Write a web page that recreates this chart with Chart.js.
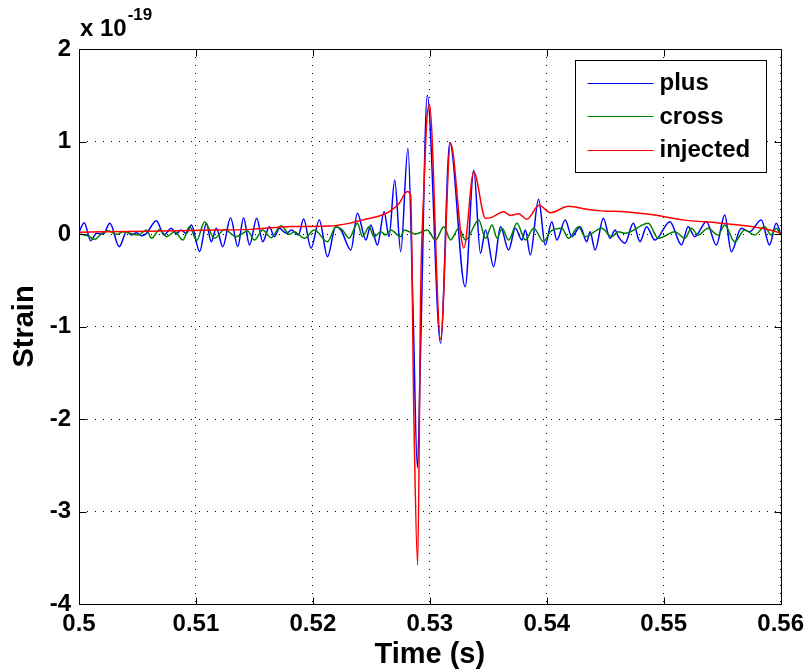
<!DOCTYPE html>
<html><head><meta charset="utf-8">
<script src="https://cdn.jsdelivr.net/npm/chart.js@4.4.0/dist/chart.umd.min.js"></script>
<style>html,body{margin:0;padding:0;background:#fff;}canvas{display:block;}</style>
</head><body>
<canvas id="c" width="810" height="672"></canvas>
<script>
// ---- data (strain in units of 1e-19, time in seconds) ----
const seriesNames = ['plus', 'cross', 'injected'];
const seriesColors = ['#0000ff', '#008000', '#ff0000'];
const xTicks = [0.5, 0.51, 0.52, 0.53, 0.54, 0.55, 0.56];
const yTicks = [-4, -3, -2, -1, 0, 1, 2];
const yExponent = '-19';

const plusPoints = [
[0.5,0.02],[0.50045,0.122],[0.50100,-0.072],[0.50151,0.007],[0.50207,0.0],[0.50264,0.115],[0.50344,-0.137],
[0.50407,0.025],[0.50449,-0.01],[0.50492,0.014],[0.50535,-0.02],[0.50577,0.007],[0.50662,0.144],[0.50727,-0.01],
[0.50790,0.061],[0.50833,0.0],[0.50870,0.043],[0.50918,0.007],[0.50961,0.097],[0.51032,-0.19],[0.51089,0.115],
[0.51131,-0.083],[0.51174,0.061],[0.51230,-0.137],[0.51296,0.177],[0.51358,-0.137],[0.51407,0.177],[0.51458,-0.119],
[0.51520,0.169],[0.51571,-0.083],[0.51628,0.079],[0.51671,-0.029],[0.51714,0.061],[0.51771,0.007],[0.51818,0.043],
[0.51876,-0.011],[0.51921,0.162],[0.51984,-0.155],[0.52055,0.151],[0.52125,-0.245],[0.52195,0.079],[0.52240,0.043],
[0.52325,-0.173],[0.52381,0.223],[0.52453,-0.065],[0.52495,0.097],[0.52552,-0.119],[0.52609,0.241],[0.52651,-0.029],
[0.52700,0.584],[0.52751,-0.191],[0.52813,0.926],[0.52856,-0.8],[0.52894,-2.53],[0.52922,-1.2],[0.52978,1.50],
[0.53092,-1.18],[0.53171,0.99],[0.53302,-0.57],[0.53376,0.69],[0.53433,-0.209],[0.53476,0.043],[0.53546,-0.353],
[0.53604,0.079],[0.53674,-0.173],[0.53731,0.061],[0.53788,-0.065],[0.53817,0.043],[0.53859,-0.227],[0.53930,0.375],
[0.53987,-0.119],[0.54043,0.133],[0.54086,-0.065],[0.54158,0.151],[0.54214,-0.029],[0.54286,0.079],[0.54342,-0.083],
[0.54371,0.025],[0.54413,-0.173],[0.54484,0.169],[0.54541,-0.047],[0.54584,0.043],[0.54612,-0.029],[0.54669,-0.1],
[0.54740,0.115],[0.54797,-0.083],[0.54853,0.079],[0.54925,-0.065],[0.55053,0.133],[0.55152,-0.119],[0.55209,0.079],
[0.55266,-0.029],[0.55365,0.133],[0.55450,-0.119],[0.55522,0.205],[0.55578,-0.191],[0.55663,0.061],[0.55735,0.025],
[0.55834,0.151],[0.55905,-0.119],[0.55962,0.115],[0.56,0.007]
];

const crossPoints = [
[0.5,0.0],[0.50079,-0.022],[0.50136,-0.058],[0.50194,0.007],[0.50250,0.036],[0.50321,-0.004],[0.50378,0.025],
[0.50435,0.007],[0.50506,-0.011],[0.50577,0.043],[0.50620,-0.047],[0.50691,0.05],[0.50748,-0.029],[0.50818,0.025],
[0.50889,-0.065],[0.50946,0.08],[0.51006,-0.07],[0.51074,0.13],[0.51159,-0.047],[0.51245,0.05],[0.51344,-0.029],
[0.51443,0.032],[0.51500,-0.065],[0.51571,0.043],[0.51643,-0.04],[0.51728,0.09],[0.51799,-0.004],[0.51841,0.025],
[0.51927,-0.047],[0.52012,0.043],[0.52125,-0.083],[0.52197,0.079],[0.52253,0.043],[0.52310,-0.047],[0.52381,0.115],
[0.52424,-0.029],[0.52481,0.079],[0.52523,-0.029],[0.52581,0.025],[0.52623,-0.011],[0.52666,0.043],[0.52751,-0.029],
[0.52779,0.043],[0.52879,0.0],[0.52978,0.043],[0.53049,-0.065],[0.53120,0.079],[0.53177,-0.065],[0.53248,0.061],
[0.53305,-0.065],[0.53419,0.151],[0.53476,-0.047],[0.53532,0.097],[0.53575,-0.047],[0.53617,0.061],[0.53674,-0.065],
[0.53745,0.115],[0.53817,-0.065],[0.53888,0.061],[0.53973,-0.083],[0.54030,0.025],[0.54129,0.061],[0.54186,-0.047],
[0.54271,0.079],[0.54328,-0.029],[0.54470,0.061],[0.54555,-0.029],[0.54612,0.025],[0.54669,0.007],[0.54868,0.115],
[0.54953,-0.047],[0.55096,0.025],[0.55181,-0.047],[0.55237,0.061],[0.55294,-0.011],[0.55379,0.061],[0.55465,-0.011],
[0.55522,0.097],[0.55607,-0.083],[0.55692,0.043],[0.55778,-0.011],[0.55863,0.079],[0.55919,-0.011],[0.55962,0.061],
[0.56,-0.011]
];

const injectedPoints = [
[0.5,0.02],[0.50605,0.03],[0.51074,0.04],[0.51458,0.05],[0.51816,0.08],[0.52140,0.086],[0.52310,0.115],
[0.52421,0.15],[0.52566,0.195],[0.52651,0.24],[0.52737,0.33],[0.52807,0.46],[0.52836,0.42],[0.52864,-2.0],
[0.52896,-3.58],[0.52922,-0.6],[0.52950,0.5],[0.52975,1.25],[0.52997,1.40],[0.53092,-1.14],[0.53177,0.98],
[0.53291,-0.15],[0.53376,0.67],[0.53476,0.17],[0.53529,0.18],[0.53632,0.24],[0.53689,0.2],[0.53760,0.22],
[0.53830,0.16],[0.53934,0.31],[0.54032,0.23],[0.54186,0.30],[0.54328,0.27],[0.54467,0.25],[0.54669,0.24],
[0.54893,0.21],[0.55181,0.15],[0.55465,0.12],[0.55746,0.08],[0.55917,0.04],[0.56,0.01]
];

const seriesPoints = [plusPoints, crossPoints, injectedPoints];
const drawOrder = [3, 2, 1];

const FONT = '"Liberation Sans", Arial, Helvetica, sans-serif';

const matlabPlugin = {
  id: 'matlabAxes',
  afterDatasetsDraw(chart) {
    const ctx = chart.ctx, a = chart.chartArea;
    const xs = chart.scales.x, ys = chart.scales.y;
    ctx.save();
    ctx.strokeStyle = '#000';
    ctx.lineWidth = 1;
    ctx.setLineDash([]);
    const L = Math.round(a.left) + 0.5, R = Math.round(a.right) + 0.5;
    const T = Math.round(a.top) + 0.5, B = Math.round(a.bottom) + 0.5;
    ctx.beginPath();
    ctx.rect(L, T, R - L, B - T);
    ctx.stroke();
    const tl = 7;
    ctx.beginPath();
    xTicks.forEach(v => {
      const x = Math.round(xs.getPixelForValue(v)) + 0.5;
      ctx.moveTo(x, B); ctx.lineTo(x, B - tl);
      ctx.moveTo(x, T); ctx.lineTo(x, T + tl);
    });
    yTicks.forEach(v => {
      const y = Math.round(ys.getPixelForValue(v)) + 0.5;
      ctx.moveTo(L, y); ctx.lineTo(L + tl, y);
      ctx.moveTo(R, y); ctx.lineTo(R - tl, y);
    });
    ctx.stroke();

    // exponent label
    ctx.fillStyle = '#000';
    ctx.textBaseline = 'alphabetic';
    ctx.textAlign = 'left';
    ctx.font = 'bold 24px ' + FONT;
    ctx.fillText('x 10', a.left + 1, a.top - 13);
    const w = ctx.measureText('x 10').width;
    ctx.font = 'bold 17px ' + FONT;
    ctx.fillText(yExponent, a.left + 1 + w + 1, a.top - 29);

    // legend
    const bx = Math.round(a.right - 15) + 0.5, bw = 191, bh = 112;
    const lx = bx - bw, ly = Math.round(a.top + 11) + 0.5;
    ctx.fillStyle = '#fff';
    ctx.fillRect(lx, ly, bw, bh);
    ctx.strokeStyle = '#000';
    ctx.lineWidth = 1;
    ctx.strokeRect(lx, ly, bw, bh);
    ctx.font = 'bold 24px ' + FONT;
    ctx.textBaseline = 'middle';
    seriesNames.forEach((name, i) => {
      const y = ly + 22 + i * 33.5;
      ctx.strokeStyle = seriesColors[i];
      ctx.lineWidth = 1.2;
      ctx.beginPath();
      ctx.moveTo(lx + 12, Math.round(y) + 0.5);
      ctx.lineTo(lx + 78, Math.round(y) + 0.5);
      ctx.stroke();
      ctx.fillStyle = '#000';
      ctx.fillText(name, lx + 84, y + 1);
    });
    ctx.restore();
  }
};

const datasets = seriesNames.map((name, i) => ({
  label: name,
  data: seriesPoints[i].map(p => ({x: p[0], y: p[1]})),
  borderColor: seriesColors[i],
  backgroundColor: seriesColors[i],
  borderWidth: 1.5,
  pointRadius: 0,
  fill: false,
  cubicInterpolationMode: 'monotone',
  order: drawOrder[i]
}));

new Chart(document.getElementById('c'), {
  type: 'line',
  data: {datasets},
  options: {
    responsive: false,
    animation: false,
    devicePixelRatio: 1,
    layout: {padding: {left: 0, right: 27, top: 49, bottom: 0}},
    plugins: {legend: {display: false}, tooltip: {enabled: false}},
    scales: {
      x: {
        type: 'linear', min: 0.5, max: 0.56,
        afterBuildTicks: s => { s.ticks = xTicks.map(v => ({value: v})); },
        afterFit: s => { s.height = 68; },
        ticks: {
          autoSkip: false, maxRotation: 0, padding: 6, color: '#000',
          font: {family: FONT, size: 24, weight: 'bold'},
          callback: v => String(+(+v).toFixed(2))
        },
        grid: {color: '#000', lineWidth: 1, drawTicks: false},
        border: {display: false, dash: [1, 7]},
        title: {display: true, text: 'Time (s)', color: '#000', padding: {top: 0, bottom: 0},
                font: {family: FONT, size: 29, weight: 'bold'}}
      },
      y: {
        type: 'linear', min: -4, max: 2,
        afterBuildTicks: s => { s.ticks = yTicks.map(v => ({value: v})); },
        afterFit: s => { s.width = 79; },
        ticks: {
          padding: 8, color: '#000',
          font: {family: FONT, size: 24, weight: 'bold'},
          callback: v => String(v)
        },
        grid: {color: '#000', lineWidth: 1, drawTicks: false},
        border: {display: false, dash: [1, 7]},
        title: {display: true, text: 'Strain', color: '#000', padding: {top: 8, bottom: 0},
                font: {family: FONT, size: 29, weight: 'bold'}}
      }
    }
  },
  plugins: [matlabPlugin]
});
</script>
</body></html>
